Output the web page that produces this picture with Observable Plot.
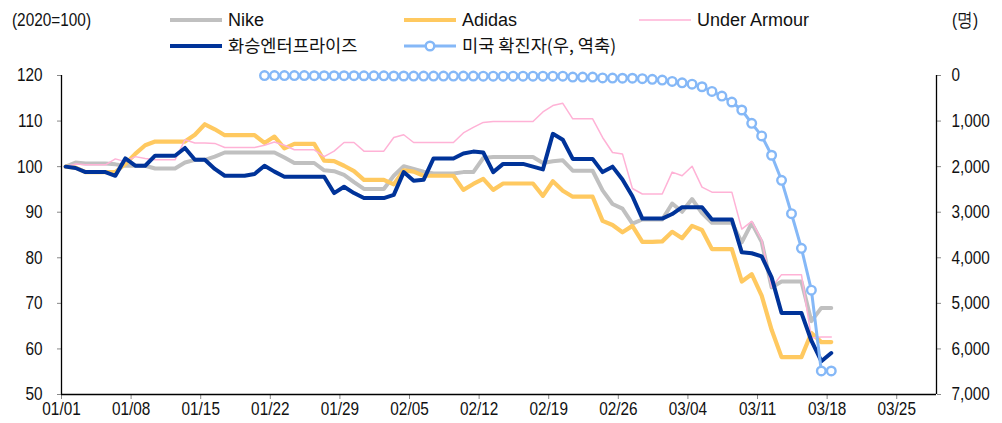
<!DOCTYPE html>
<html>
<head>
<meta charset="utf-8">
<script src="https://cdn.jsdelivr.net/npm/d3@7"></script>
<script src="https://cdn.jsdelivr.net/npm/@observablehq/plot@0.6"></script>
<style>
  body { margin: 0; background: #fff; }
  #wrap { position: relative; width: 1002px; height: 423px; }
  #legend { position: absolute; left: 0; top: 0; pointer-events: none; }
  .lg { font-family: "Liberation Sans", Arial, sans-serif; font-size: 18px; fill: #111; }
  .lgk { font-family: "Noto Sans CJK KR", sans-serif; font-size: 17.6px; fill: #111; }
  .ax { font-family: "Liberation Sans", Arial, sans-serif; font-size: 18.5px; fill: #111; }
</style>
</head>
<body>
<div id="wrap">
  <div id="chart"></div>
  <svg id="legend" width="1002" height="60"></svg>
</div>
<script>
// ---- data ----
const startDay = "2020-01-01";
const endDay = "2020-03-18";
const usStartDay = "2020-01-21";
const xDomain = ["2020-01-01", "2020-03-29"];
const xTickDays = ["2020-01-01","2020-01-08","2020-01-15","2020-01-22","2020-01-29","2020-02-05","2020-02-12","2020-02-19","2020-02-26","2020-03-04","2020-03-11","2020-03-18","2020-03-25"];
const leftTicks = [50, 60, 70, 80, 90, 100, 110, 120];
const rightTicks = [0, 1000, 2000, 3000, 4000, 5000, 6000, 7000];

const seriesNames = ["Nike", "Adidas", "Under Armour", "화승엔터프라이즈", "미국 확진자(우, 역축)"];

const nike = [
  100, 100.9, 100.7, 100.7, 100.7, 100.5, 100.2, 100.2, 100.2, 99.6,
  99.6, 99.6, 100.9, 101.5, 101.5, 102.2, 103.1, 103.1, 103.1, 103.1,
  103.1, 103.1, 102, 100.8, 100.8, 100.8, 99.2, 99, 98.2, 96.6,
  95.1, 95.1, 95.1, 98, 100.1, 99.5, 98.9, 98.5, 98.5, 98.5,
  98.8, 98.8, 101.9, 102.1, 102.1, 102.1, 102.1, 102.1, 100.8, 101.2,
  101.4, 99.1, 99.1, 99.1, 94.8, 91.8, 90.8, 87.5, 88.4, 88.4,
  88.4, 91.9, 90.1, 92.9, 89.8, 87.7, 87.7, 87.7, 83.4, 87.6,
  83.5, 73.5, 74.8, 74.8, 74.8, 66.1, 69, 69
];
const adidas = [
  100, 99.8, 98.8, 98.8, 98.8, 98.8, 100.6, 102.8, 104.7, 105.5,
  105.5, 105.5, 105.5, 107, 109.3, 108.2, 106.9, 106.9, 106.9, 106.9,
  105.2, 106.6, 104, 105, 105, 105, 101.3, 101.2, 100.2, 99,
  97.1, 97.1, 97.1, 96.1, 99.2, 98.9, 98, 98, 98, 98,
  94.9, 96.2, 97.3, 94.9, 96.3, 96.3, 96.3, 96.3, 93.6, 96.8,
  94.7, 93.4, 93.4, 93.4, 88.1, 87.2, 85.6, 87, 83.5, 83.5,
  83.6, 85.7, 84.3, 87, 86.1, 81.9, 81.9, 81.9, 74.8, 76.4,
  71.7, 64.2, 58.2, 58.2, 58.2, 63.5, 61.5, 61.5
];
const underArmour = [
  100, 100.6, 100.4, 100.4, 100.4, 101.7, 101.1, 102.2, 101.8, 101.5,
  101.5, 101.5, 105.9, 105.2, 105.2, 105.1, 104.2, 104.2, 104.2, 104.2,
  104.7, 105.4, 104.7, 103.7, 103.7, 103.7, 102.2, 103.4, 105.3, 105.3,
  103.4, 103.4, 103.4, 106.4, 107, 105.3, 105.3, 105.3, 105.3, 105.3,
  107.4, 108.6, 109.7, 109.9, 109.9, 109.9, 109.9, 109.9, 112, 113.4,
  113.9, 110.5, 110.5, 110.5, 106.4, 103.1, 102.8, 95.2, 94, 94,
  94, 98.8, 98, 100.1, 95.5, 94.4, 94.4, 94.4, 86.3, 88,
  83.9, 73.5, 76.3, 76.3, 76.3, 62.4, 62.6, 62.6
];
const hwaseung = [
  100, 99.7, 98.8, 98.8, 98.8, 98, 101.8, 100.2, 100.2, 102.4,
  102.4, 102.4, 104.1, 101.5, 101.5, 99.5, 98, 98, 98, 98.4,
  100.2, 98.9, 97.8, 97.8, 97.8, 97.8, 97.8, 94.2, 95.6, 94.2,
  93.1, 93.1, 93.1, 93.8, 98.8, 96.9, 97.1, 101.8, 101.8, 101.8,
  102.9, 103.3, 103.1, 98.8, 100.6, 100.6, 100.6, 100, 99.4, 107.2,
  105.9, 101.7, 101.7, 101.7, 98.8, 100, 97.2, 93.5, 88.6, 88.6,
  88.6, 89.6, 91.1, 91.1, 91.1, 88.4, 88.4, 88.4, 81.2, 81,
  80.3, 75.7, 67.9, 67.9, 67.9, 61.8, 57.3, 59.1
];
const usCases = [
  1, 1, 1, 2, 2, 5, 5, 5, 5, 5,
  6, 7, 8, 11, 11, 12, 12, 12, 12, 12,
  13, 13, 14, 15, 15, 15, 15, 15, 15, 15,
  15, 35, 35, 35, 53, 57, 60, 60, 70, 85,
  100, 130, 160, 190, 247, 350, 451, 582, 757, 1050,
  1326, 1750, 2300, 3033, 3792, 4711, 6484, 6484
];

// ---- build ----
const C = { nike: "#c0c0c0", adidas: "#ffc960", ua: "#ffb2d6", hs: "#003399", us: "#85b8f7" };
const pd = d3.utcParse("%Y-%m-%d");
const shift = 10 * 3600e3; // points sit slightly right of the day tick
const days = d3.utcDay.range(pd(startDay), d3.utcDay.offset(pd(endDay), 1)).map(d => new Date(+d + shift));
const usDays = d3.utcDay.range(pd(usStartDay), d3.utcDay.offset(pd(endDay), 1)).map(d => new Date(+d + shift));
const mk = arr => arr.map((v, i) => ({ date: days[i], v }));
const yMax = 120, ratio = 100; // right axis: 0 at 120, 7000 at 50
const usData = usCases.map((v, i) => ({ date: usDays[i], y: yMax - v / ratio }));
const x0 = pd(xDomain[0]), x1 = pd(xDomain[1]);

const plot = Plot.plot({
  width: 1002, height: 423,
  marginLeft: 61, marginRight: 66, marginTop: 75, marginBottom: 29,
  style: { fontFamily: '"Liberation Sans", Arial, sans-serif', fontSize: "18.5px", color: "#111", background: "white" },
  x: { type: "utc", domain: [x0, x1] },
  y: { domain: [50, 120] },
  marks: [
    Plot.axisX({ ticks: xTickDays.map(pd), tickFormat: d3.utcFormat("%m/%d"), tickSize: 5, tickPadding: 2, stroke: "#888", fill: "#111", label: null }),
    Plot.axisY({ anchor: "left", ticks: leftTicks, tickSize: 4, tickPadding: 15, stroke: "#888", fill: "#111", label: null }),
    Plot.axisY({ anchor: "right", ticks: rightTicks.map(v => yMax - v / ratio), tickFormat: d => d3.format(",")(Math.round((yMax - d) * ratio)), tickSize: 4, tickPadding: 11, stroke: "#888", fill: "#111", label: null }),
    Plot.ruleY([50], { stroke: "#000", strokeWidth: 1.3 }),
    Plot.ruleX([x0], { stroke: "#000", strokeWidth: 1.3 }),
    Plot.ruleX([x1], { stroke: "#000", strokeWidth: 1.3 }),
    Plot.line(mk(nike), { x: "date", y: "v", stroke: C.nike, strokeWidth: 4, strokeLinejoin: "round" }),
    Plot.line(mk(adidas), { x: "date", y: "v", stroke: C.adidas, strokeWidth: 4.2, strokeLinejoin: "round" }),
    Plot.line(mk(underArmour), { x: "date", y: "v", stroke: C.ua, strokeWidth: 1.5, strokeLinejoin: "round" }),
    Plot.line(mk(hwaseung), { x: "date", y: "v", stroke: C.hs, strokeWidth: 4, strokeLinejoin: "round" }),
    Plot.line(usData, { x: "date", y: "y", stroke: C.us, strokeWidth: 3 }),
    Plot.dot(usData, { x: "date", y: "y", r: 4.3, fill: "white", stroke: C.us, strokeWidth: 2.4 })
  ]
});
document.getElementById("chart").append(plot);

// condense axis text (narrow face like the reference)
function condense(t, k) {
  const w = t.getComputedTextLength();
  t.setAttribute("textLength", (w * k).toFixed(1));
  t.setAttribute("lengthAdjust", "spacingAndGlyphs");
}
plot.querySelectorAll('g[aria-label$="tick label"] text').forEach(t => condense(t, 0.83));

// ---- legend ----
const lg = d3.select("#legend");
const items = [
  { name: seriesNames[0], color: C.nike, w: 4, x: 170, y: 20, k: false },
  { name: seriesNames[1], color: C.adidas, w: 4.2, x: 404, y: 20, k: false },
  { name: seriesNames[2], color: C.ua, w: 1.5, x: 639, y: 20, k: false },
  { name: seriesNames[3], color: C.hs, w: 4, x: 170, y: 46, k: true },
  { name: seriesNames[4], color: C.us, w: 3, x: 404, y: 46, k: true, dot: true }
];
for (const it of items) {
  lg.append("line").attr("x1", it.x).attr("x2", it.x + 52).attr("y1", it.y).attr("y2", it.y)
    .attr("stroke", it.color).attr("stroke-width", it.w);
  if (it.dot) lg.append("circle").attr("cx", it.x + 26).attr("cy", it.y).attr("r", 4.3)
    .attr("fill", "white").attr("stroke", it.color).attr("stroke-width", 2.4);
  lg.append("text").attr("class", it.k ? "lgk" : "lg").attr("x", it.x + 58).attr("y", it.y)
    .attr("dy", "0.35em").text(it.name);
}
const l1 = lg.append("text").attr("class", "ax").attr("x", 12).attr("y", 20).attr("dy", "0.35em").text("(2020=100)");
const l2 = lg.append("text").attr("class", "ax").attr("x", 952).attr("y", 20).attr("dy", "0.35em").text("(명)");
condense(l1.node(), 0.83);
condense(l2.node(), 0.83);
</script>
</body>
</html>
